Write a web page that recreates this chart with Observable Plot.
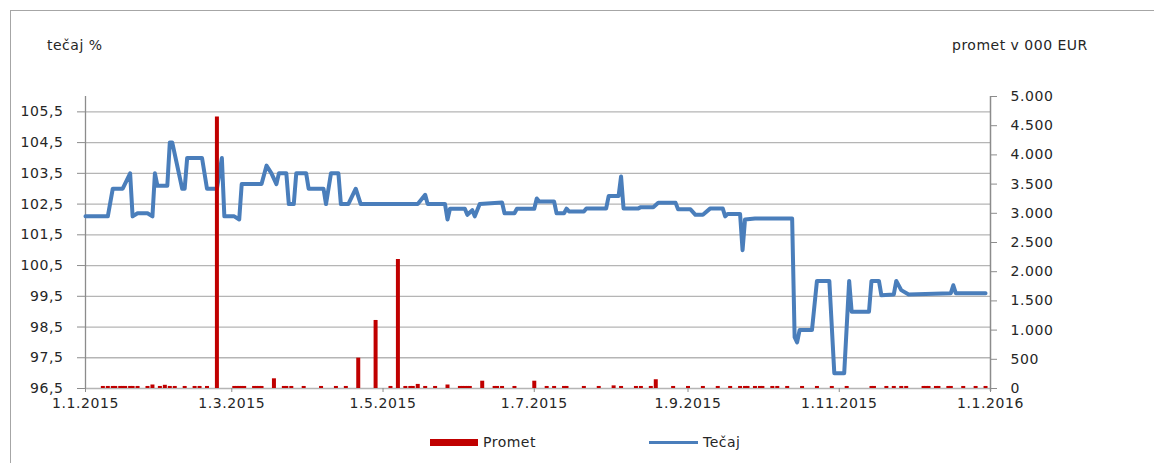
<!DOCTYPE html>
<html><head><meta charset="utf-8">
<script src="https://cdn.jsdelivr.net/npm/d3@7"></script>
<script src="https://cdn.jsdelivr.net/npm/@observablehq/plot@0.6"></script>
<style>
body{margin:0;background:#fff;}
#wrap{position:relative;width:1154px;height:463px;overflow:hidden;font-family:"DejaVu Sans",sans-serif;color:#262626;}
.frame{position:absolute;left:10px;top:10px;width:1160px;height:470px;border-left:1.5px solid #a6a6a6;border-top:1.5px solid #a6a6a6;}
.lbl{position:absolute;font-size:14px;line-height:16px;white-space:nowrap;letter-spacing:0.5px;}
#chart{position:absolute;left:0;top:0;}
#chart svg text{letter-spacing:0.6px;}
.sw{position:absolute;}
</style></head><body>
<div id="wrap">
<div class="frame"></div>
<div class="lbl" style="left:47px;top:37px;">tečaj %</div>
<div class="lbl" style="left:952px;top:37px;">promet v 000 EUR</div>
<div id="chart"></div>
<div class="sw" style="left:430px;top:439px;width:48px;height:7px;background:#c00000;"></div>
<div class="lbl" style="left:483px;top:434px;">Promet</div>
<div class="sw" style="left:649px;top:441px;width:49px;height:3px;background:#4a7ebb;"></div>
<div class="lbl" style="left:703px;top:434px;">Tečaj</div>
</div>
<script>
const tecajDates = [
 "2015-01-01","2015-01-10","2015-01-12","2015-01-16","2015-01-19","2015-01-20","2015-01-22","2015-01-26","2015-01-28","2015-01-29",
 "2015-01-30","2015-02-03","2015-02-04","2015-02-05","2015-02-09","2015-02-10","2015-02-11","2015-02-17","2015-02-19","2015-02-23",
 "2015-02-25","2015-02-26","2015-03-02","2015-03-04","2015-03-05","2015-03-13","2015-03-15","2015-03-17","2015-03-19","2015-03-20",
 "2015-03-23","2015-03-24","2015-03-26","2015-03-27","2015-03-31","2015-04-01","2015-04-07","2015-04-08","2015-04-10","2015-04-13",
 "2015-04-14","2015-04-17","2015-04-20","2015-04-22","2015-05-15","2015-05-18","2015-05-19","2015-05-26","2015-05-27","2015-05-28",
 "2015-06-03","2015-06-04","2015-06-06","2015-06-07","2015-06-09","2015-06-18","2015-06-19","2015-06-23","2015-06-24","2015-07-01",
 "2015-07-02","2015-07-03","2015-07-09","2015-07-10","2015-07-13","2015-07-14","2015-07-15","2015-07-21","2015-07-22","2015-07-30",
 "2015-07-31","2015-08-04","2015-08-05","2015-08-06","2015-08-12","2015-08-13","2015-08-18","2015-08-20","2015-08-27","2015-08-28",
 "2015-09-02","2015-09-04","2015-09-07","2015-09-10","2015-09-15","2015-09-16","2015-09-17","2015-09-22","2015-09-23","2015-09-24",
 "2015-09-28","2015-10-13","2015-10-14","2015-10-15","2015-10-16","2015-10-21","2015-10-23","2015-10-28","2015-10-30","2015-11-03",
 "2015-11-05","2015-11-06","2015-11-13","2015-11-14","2015-11-17","2015-11-18","2015-11-23","2015-11-24","2015-11-26","2015-11-29",
 "2015-12-16","2015-12-17","2015-12-18","2015-12-30"
];
const tecajValues = [
 102.1,102.1,103.0,103.0,103.5,102.1,102.2,102.2,102.1,103.5,
 103.1,103.1,104.5,104.5,103.0,103.0,104.0,104.0,103.0,103.0,
 104.0,102.1,102.1,102.0,103.15,103.15,103.75,103.5,103.15,103.5,
 103.5,102.5,102.5,103.5,103.5,103.0,103.0,102.5,103.5,103.5,
 102.5,102.5,103.0,102.5,102.5,102.8,102.5,102.5,102.0,102.35,
 102.35,102.15,102.3,102.1,102.5,102.55,102.2,102.2,102.35,102.35,
 102.68,102.58,102.58,102.2,102.2,102.35,102.26,102.26,102.36,102.36,
 102.76,102.76,103.4,102.36,102.36,102.4,102.4,102.54,102.54,102.33,
 102.33,102.15,102.15,102.36,102.36,102.1,102.18,102.18,101.0,102.0,
 102.03,102.03,98.17,98.0,98.4,98.4,100.0,100.0,97.0,97.0,
 100.0,99.0,99.0,100.0,100.0,99.53,99.56,100.0,99.7,99.56,
 99.6,99.86,99.6,99.6
];
const prometDates = [
 "2015-01-08","2015-01-10","2015-01-12","2015-01-13","2015-01-15","2015-01-16","2015-01-17","2015-01-19","2015-01-20","2015-01-22",
 "2015-01-26","2015-01-28","2015-01-31","2015-02-02","2015-02-04","2015-02-06","2015-02-10","2015-02-14","2015-02-16","2015-02-19",
 "2015-02-23","2015-03-02","2015-03-03","2015-03-04","2015-03-05","2015-03-06","2015-03-10","2015-03-11","2015-03-12","2015-03-13",
 "2015-03-18","2015-03-22","2015-03-23","2015-03-25","2015-03-30","2015-04-06","2015-04-12","2015-04-16","2015-04-21","2015-04-28",
 "2015-05-04","2015-05-07","2015-05-10","2015-05-12","2015-05-13","2015-05-15","2015-05-18","2015-05-22","2015-05-27","2015-06-01",
 "2015-06-02","2015-06-03","2015-06-04","2015-06-05","2015-06-10","2015-06-15","2015-06-16","2015-06-18","2015-06-23","2015-07-01",
 "2015-07-06","2015-07-09","2015-07-13","2015-07-14","2015-07-21","2015-07-27","2015-08-02","2015-08-05","2015-08-11","2015-08-13",
 "2015-08-17","2015-08-19","2015-08-26","2015-09-01","2015-09-07","2015-09-13","2015-09-18","2015-09-22","2015-09-24","2015-09-25",
 "2015-09-28","2015-09-30","2015-10-01","2015-10-05","2015-10-07","2015-10-11","2015-10-17","2015-10-23","2015-10-29","2015-11-04",
 "2015-11-14","2015-11-15","2015-11-20","2015-11-23","2015-11-26","2015-11-28","2015-12-05","2015-12-06","2015-12-07","2015-12-10",
 "2015-12-11","2015-12-15","2015-12-16","2015-12-21","2015-12-26","2015-12-30"
];
const prometValues = [
 35,35,35,35,35,35,35,35,35,35,
 35,60,35,55,35,35,35,35,35,35,
 4650,35,35,35,35,35,35,35,35,35,
 166,35,35,35,35,35,35,35,520,1165,
 35,2210,35,35,35,70,35,35,60,35,
 35,35,35,35,125,35,35,35,35,125,
 35,35,35,35,35,35,45,35,35,35,
 35,150,35,35,35,35,35,35,35,35,
 35,35,35,35,35,35,35,35,35,35,
 35,35,35,35,35,35,35,35,35,35,
 35,35,35,35,35,35
];
const leftTicks = [96.5,97.5,98.5,99.5,100.5,101.5,102.5,103.5,104.5,105.5];
const rightTicks = [0,500,1000,1500,2000,2500,3000,3500,4000,4500,5000];
const xTicks = ["2015-01-01","2015-03-01","2015-05-01","2015-07-01","2015-09-01","2015-11-01","2016-01-01"];
const xDomain = ["2015-01-01","2016-01-01"];
const leftDomain = [96.5, 106];
const rightDomain = [0, 5000];

const pr = d3.scaleLinear(rightDomain, leftDomain);
const tecaj = tecajDates.map((d,i)=>({date:new Date(d), value:tecajValues[i]}));
const promet = prometDates.map((d,i)=>({date:new Date(d), value:prometValues[i]}));
const fmtL = d => d3.format(".1f")(d).replace(".", ",");
const loc = d3.formatLocale({decimal:",", thousands:".", grouping:[3], currency:["",""]});
const fmtR = v => loc.format(",d")(Math.round(pr.invert(v)));
const fmtX = d => `${d.getUTCDate()}.${d.getUTCMonth()+1}.${d.getUTCFullYear()}`;
const x0 = new Date(xDomain[0]), x1 = new Date(xDomain[1]);

const chart = Plot.plot({
  width:1154, height:463, marginTop:96, marginBottom:75, marginLeft:85, marginRight:164,
  style:{fontFamily:"DejaVu Sans, sans-serif", fontSize:"14px", color:"#262626", background:"transparent"},
  x:{type:"utc", domain:[x0, x1]},
  y:{domain:leftDomain},
  marks:[
    Plot.gridY(leftTicks, {stroke:"#b5b5b5", strokeOpacity:1, strokeWidth:1.3}),
    Plot.ruleX([x0], {stroke:"#8c8c8c", strokeWidth:1.3}),
    Plot.ruleX([x1], {stroke:"#8c8c8c", strokeWidth:1.5, y1:96.4, y2:106}),
    Plot.axisY(leftTicks, {anchor:"left", tickFormat:fmtL, tickSize:8, tickPadding:14, stroke:"#8c8c8c", label:null}),
    Plot.axisY(rightTicks.map(pr), {anchor:"right", tickFormat:fmtR, tickSize:6, tickPadding:14, stroke:"#8c8c8c", label:null}),
    Plot.axisX(xTicks.map(d=>new Date(d)), {anchor:"bottom", tickFormat:fmtX, tickSize:4, tickPadding:6, stroke:"#8c8c8c", label:null}),
    Plot.line(tecaj, {x:"date", y:"value", stroke:"#4a7ebb", strokeWidth:4, strokeLinejoin:"round"}),
    Plot.ruleX(promet, {x:"date", y1:leftDomain[0], y2:d=>pr(d.value), stroke:"#c00000", strokeWidth:4})
  ]
});
document.getElementById("chart").appendChild(chart);
</script>
</body></html>
